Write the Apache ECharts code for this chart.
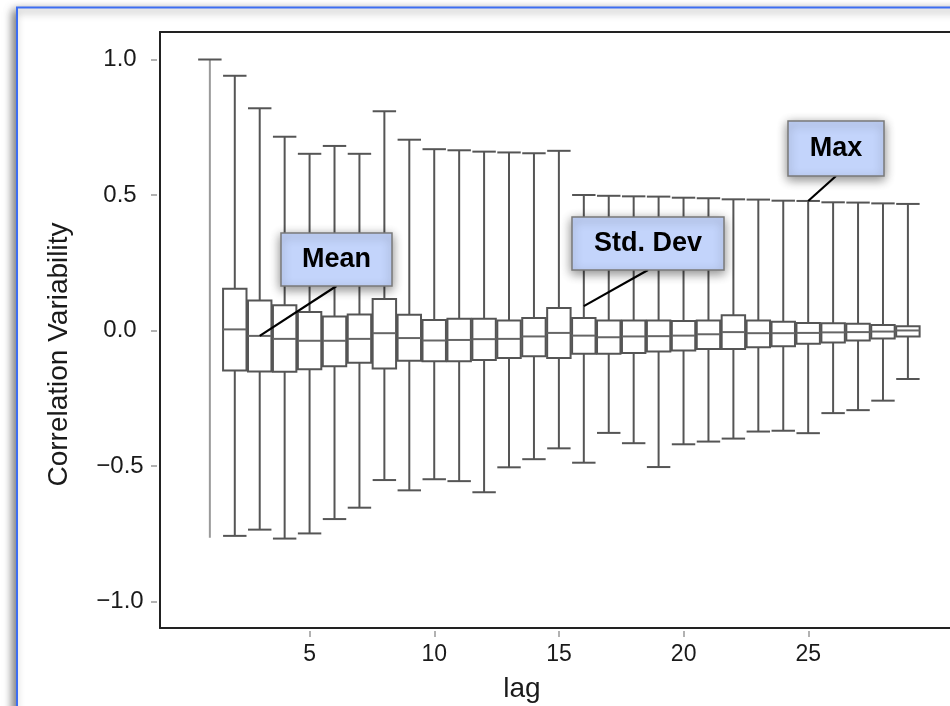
<!DOCTYPE html>
<html>
<head>
<meta charset="utf-8">
<script src="https://cdn.jsdelivr.net/npm/echarts@6/dist/echarts.min.js"></script>
<style>
  html, body { margin: 0; padding: 0; background: #ffffff; }
  #chart { width: 950px; height: 706px; }
</style>
</head>
<body>
<div id="chart"></div>
<script>
// ---- data ----
const lags = [1, 2, 3, 4, 5, 6, 7, 8, 9, 10, 11, 12, 13, 14, 15, 16, 17, 18, 19, 20, 21, 22, 23, 24, 25, 26, 27, 28, 29];
const maxVals = [1.0, 0.94, 0.82, 0.715, 0.652, 0.681, 0.652, 0.809, 0.704, 0.669, 0.665, 0.660, 0.657, 0.654, 0.663, 0.500, 0.497, 0.495, 0.494, 0.490, 0.488, 0.484, 0.483, 0.479, 0.478, 0.473, 0.472, 0.469, 0.467];
const q3Vals = [null, 0.154, 0.111, 0.093, 0.068, 0.052, 0.059, 0.116, 0.058, 0.039, 0.043, 0.043, 0.037, 0.046, 0.083, 0.046, 0.037, 0.037, 0.037, 0.035, 0.037, 0.056, 0.037, 0.032, 0.028, 0.027, 0.025, 0.020, 0.016];
const medianVals = [null, 0.004, -0.020, -0.031, -0.038, -0.038, -0.031, -0.010, -0.028, -0.037, -0.035, -0.032, -0.031, -0.022, -0.009, -0.019, -0.025, -0.022, -0.021, -0.019, -0.014, -0.006, -0.010, -0.010, -0.009, -0.007, -0.006, -0.004, 0.000];
const q1Vals = [null, -0.148, -0.151, -0.152, -0.143, -0.132, -0.119, -0.140, -0.112, -0.114, -0.114, -0.109, -0.102, -0.095, -0.102, -0.086, -0.086, -0.083, -0.078, -0.074, -0.068, -0.068, -0.062, -0.058, -0.049, -0.044, -0.037, -0.030, -0.022];
const minVals = [-0.765, -0.758, -0.735, -0.768, -0.749, -0.696, -0.654, -0.552, -0.590, -0.549, -0.556, -0.597, -0.505, -0.475, -0.435, -0.488, -0.378, -0.416, -0.504, -0.420, -0.410, -0.399, -0.373, -0.370, -0.379, -0.305, -0.294, -0.259, -0.179];

const xTickValues = [5, 10, 15, 20, 25];
const yTickValues = [-1.0, -0.5, 0.0, 0.5, 1.0];

const annotationTexts = ['Mean', 'Std. Dev', 'Max'];
const annotationLags = [3, 16, 25];
const annotationValues = [-0.02, 0.09, 0.478];

// ---- chart ----
const FONT = "'Liberation Sans', Arial, Helvetica, sans-serif";
const chart = echarts.init(document.getElementById('chart'), null, { renderer: 'canvas' });

const PX_PER_LAG = 24.93;
const PLOT_W = 790;              // plot runs off the right edge of the picture
const X_MIN = -1;
const X_MAX = X_MIN + PLOT_W / PX_PER_LAG;

const boxData = lags.map((lag, i) => [lag, minVals[i], q1Vals[i] == null ? minVals[i] : q1Vals[i],
  medianVals[i] == null ? minVals[i] : medianVals[i], q3Vals[i] == null ? minVals[i] : q3Vals[i], maxVals[i]]);

function renderBox(params, api) {
  const i = params.dataIndex;
  const lag = api.value(0);
  const half = api.size([1, 0])[0] * 0.47;
  const pMax = api.coord([lag, maxVals[i]]);
  const pMin = api.coord([lag, minVals[i]]);
  const cx = pMax[0];
  const stroke = '#555555';
  const children = [];
  if (q3Vals[i] == null) {
    children.push({ type: 'line', shape: { x1: cx, y1: pMax[1], x2: cx, y2: pMin[1] },
      style: { stroke: '#9a9a9a', lineWidth: 2 } });
    children.push({ type: 'line', shape: { x1: cx - half, y1: pMax[1], x2: cx + half, y2: pMax[1] },
      style: { stroke: stroke, lineWidth: 2 } });
    return { type: 'group', children: children };
  }
  const pQ3 = api.coord([lag, q3Vals[i]]);
  const pQ1 = api.coord([lag, q1Vals[i]]);
  const pMed = api.coord([lag, medianVals[i]]);
  children.push({ type: 'line', shape: { x1: cx, y1: pMax[1], x2: cx, y2: pQ3[1] }, style: { stroke: stroke, lineWidth: 2 } });
  children.push({ type: 'line', shape: { x1: cx, y1: pQ1[1], x2: cx, y2: pMin[1] }, style: { stroke: stroke, lineWidth: 2 } });
  children.push({ type: 'line', shape: { x1: cx - half, y1: pMax[1], x2: cx + half, y2: pMax[1] }, style: { stroke: stroke, lineWidth: 2 } });
  children.push({ type: 'line', shape: { x1: cx - half, y1: pMin[1], x2: cx + half, y2: pMin[1] }, style: { stroke: stroke, lineWidth: 2 } });
  children.push({ type: 'rect', shape: { x: cx - half, y: pQ3[1], width: half * 2, height: pQ1[1] - pQ3[1] },
    style: { fill: '#ffffff', stroke: stroke, lineWidth: 2 } });
  children.push({ type: 'line', shape: { x1: cx - half, y1: pMed[1], x2: cx + half, y2: pMed[1] }, style: { stroke: '#666666', lineWidth: 2 } });
  return { type: 'group', children: children };
}

const frameLine = { show: true, onZero: false, lineStyle: { color: '#222222', width: 2 } };

const option = {
  backgroundColor: '#ffffff',
  animation: false,
  textStyle: { fontFamily: FONT },
  grid: [
    { left: 160, top: 32, width: PLOT_W, height: 596, show: false },
    { left: 157, top: 59.5, width: 10, height: 542, show: false },
    { left: 309.7, top: 600, width: 498.6, height: 31, show: false }
  ],
  xAxis: [
    { gridIndex: 0, type: 'value', min: X_MIN, max: X_MAX, position: 'bottom',
      axisLine: frameLine, axisTick: { show: false }, axisLabel: { show: false }, splitLine: { show: false } },
    { gridIndex: 0, type: 'value', min: X_MIN, max: X_MAX, position: 'top',
      axisLine: frameLine, axisTick: { show: false }, axisLabel: { show: false }, splitLine: { show: false } },
    { gridIndex: 1, type: 'value', min: 0, max: 1, show: false },
    { gridIndex: 2, type: 'value', min: 5, max: 25, interval: 5, position: 'bottom',
      axisLine: { show: false }, splitLine: { show: false },
      axisTick: { show: true, length: 6, lineStyle: { color: '#999999', width: 1.5 } },
      axisLabel: { fontSize: 23, color: '#1a1a1a', margin: 12, fontFamily: FONT },
      name: 'lag', nameLocation: 'middle', nameGap: 44,
      nameTextStyle: { fontSize: 28, color: '#1a1a1a', fontFamily: FONT, padding: [0, 74, 0, 0] } }
  ],
  yAxis: [
    { gridIndex: 0, type: 'value', min: -1.098, max: 1.1015, position: 'left',
      axisLine: frameLine, axisTick: { show: false }, axisLabel: { show: false }, splitLine: { show: false } },
    { gridIndex: 1, type: 'value', min: -1, max: 1, interval: 0.5, position: 'left',
      axisLine: { show: false }, splitLine: { show: false },
      axisTick: { show: true, length: 6, lineStyle: { color: '#999999', width: 1.5 } },
      axisLabel: { fontSize: 24, color: '#1a1a1a', margin: 37, align: 'center', fontFamily: FONT,
        formatter: v => v.toFixed(1).replace('-', '\u2212') },
      name: 'Correlation Variability', nameLocation: 'middle', nameGap: 84,
      nameTextStyle: { fontSize: 28, color: '#1a1a1a', fontFamily: FONT, padding: [0, 48, 0, 0] } },
    { gridIndex: 2, type: 'value', show: false }
  ],
  series: [
    { type: 'custom', name: 'lag boxes', xAxisIndex: 0, yAxisIndex: 0, renderItem: renderBox,
      data: boxData, encode: { x: 0, y: [1, 2, 3, 4, 5] }, z: 3 }
  ]
};
chart.setOption(option);

// blue frame of the figure + annotation call-outs
const boxLayout = [
  { x: 281, y: 233, w: 111, h: 53 },
  { x: 572, y: 217, w: 152, h: 53 },
  { x: 788, y: 121, w: 96, h: 55 }
];
const elements = [{
  type: 'rect', z: -100, silent: true,
  shape: { x: 17, y: 7.5, width: 1000, height: 800 },
  style: { fill: '#ffffff', stroke: '#3d6ef2', lineWidth: 2, shadowBlur: 9, shadowColor: 'rgba(0,0,0,0.55)', shadowOffsetX: -3, shadowOffsetY: 3 }
}];
annotationTexts.forEach((t, k) => {
  const b = boxLayout[k];
  const target = chart.convertToPixel({ xAxisIndex: 0, yAxisIndex: 0 }, [annotationLags[k], annotationValues[k]]);
  const bx = b.x + b.w / 2, by = b.y + b.h;
  elements.push({ type: 'line', z: 100, silent: true,
    shape: { x1: bx, y1: by, x2: target[0], y2: target[1] }, style: { stroke: '#000000', lineWidth: 2.2 } });
  elements.push({ type: 'rect', z: 101, silent: true,
    shape: { x: b.x, y: b.y, width: b.w, height: b.h },
    style: { fill: '#c3d4fb', stroke: '#7a7a7a', lineWidth: 1.5, shadowBlur: 10, shadowColor: 'rgba(0,0,0,0.45)', shadowOffsetX: 0, shadowOffsetY: 3 } });
  elements.push({ type: 'text', z: 102, silent: true,
    style: { text: t, x: bx, y: b.y + b.h / 2, align: 'center', verticalAlign: 'middle',
      font: "bold 27px " + FONT, fill: '#000000' } });
});
chart.setOption({ graphic: { elements: elements } });
</script>
</body>
</html>
